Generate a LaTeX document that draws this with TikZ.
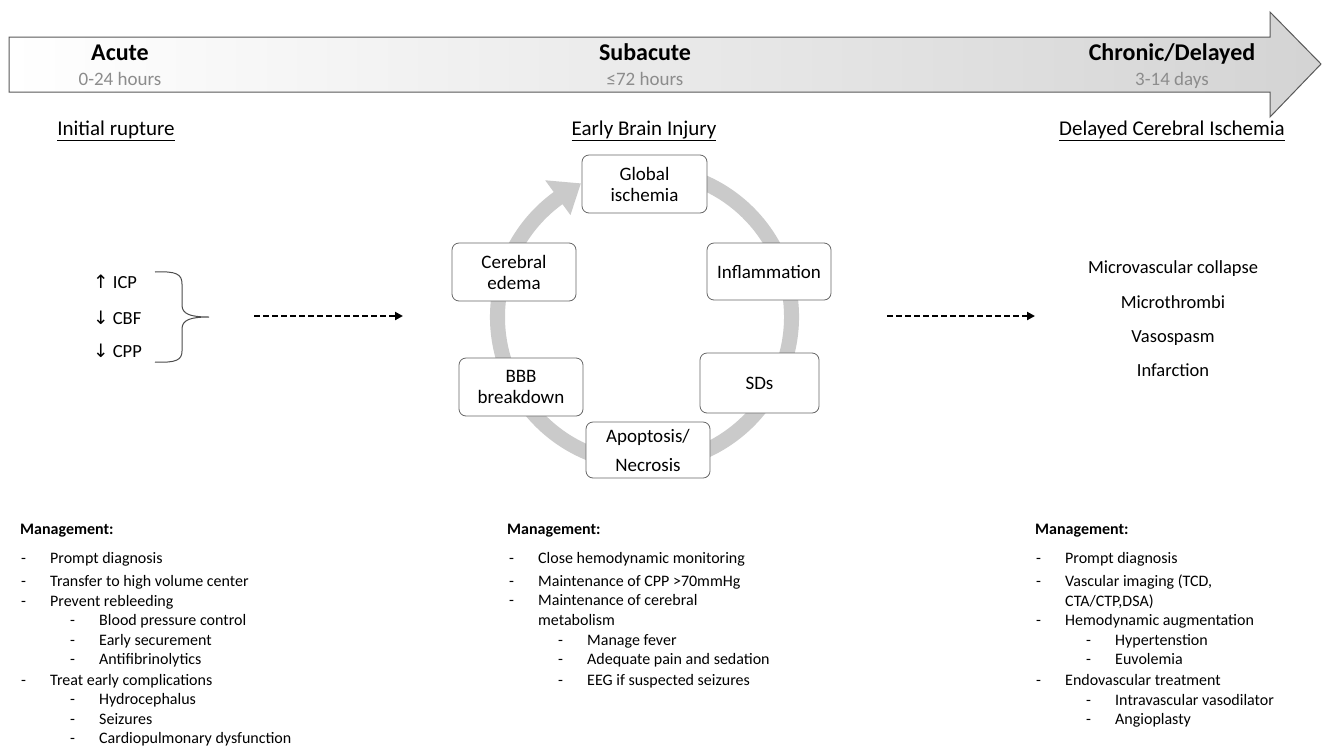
\documentclass[tikz,border=0pt]{standalone}
\usepackage{fontspec}
\setmainfont{Carlito}
\newfontfamily\symf{DejaVu Sans}
\usetikzlibrary{arrows.meta}
\definecolor{ringgray}{HTML}{CACACA}
\newcommand\itm[5]{\node[mg] (#1d) at (#2,#4) {-}; \node[mg] (#1) at (#3,#4) {#5};}
\begin{document}
\begin{tikzpicture}[x=1pt,y=-1pt,
  hd/.style={font=\bfseries\fontsize{24}{28}\selectfont, inner sep=0pt, text height=1.15em, text depth=0pt},
  subt/.style={font=\fontsize{19}{22}\selectfont, text=black!45, inner sep=0pt, text height=1.1em, text depth=0pt},
  lab/.style={font=\fontsize{21}{24}\selectfont, inner sep=0pt, text height=1.1em, text depth=0pt},
  cyc/.style={draw=black!60, line width=0.8pt, rounded corners=7pt, fill=white, align=center, font=\fontsize{19}{21}\selectfont, inner sep=0pt},
  side/.style={font=\fontsize{18.5}{22}\selectfont, inner sep=0pt, text height=1.1em, text depth=0pt},
  mg/.style={font=\fontsize{16}{19}\selectfont, anchor=west, inner sep=0pt, text height=1.05em, text depth=0pt},
  mgh/.style={mg, font=\bfseries\fontsize{16}{19}\selectfont},
  flow/.style={dash pattern=on 6pt off 3pt, line width=2pt, -{Triangle[length=8pt,width=8pt]}},
]
\useasboundingbox (0,0) rectangle (1322,745);
\fill[white] (0,0) rectangle (1322,745);

% timeline arrow
\shade[left color=white, middle color=black!14, right color=black!17, draw=black!65, line width=1pt]
  (9,37) -- (1270,37) -- (1270,12) -- (1321,64) -- (1270,117) -- (1270,92) -- (9,92) -- cycle;
\node[hd] (acute) at (120,55) {Acute};
\node[subt] (acuteT) at (120,80) {0-24 hours};
\node[hd] (subac) at (645,55) {Subacute};
\node[subt] (subacT) at (645,80) {≤72 hours};
\node[hd] (chron) at (1172,55) {Chronic/Delayed};
\node[subt] (chronT) at (1172,80) {3-14 days};

\node[lab] (initial) at (116,130) {\underline{Initial rupture}};
\node[lab] (ebi) at (644,130) {\underline{Early Brain Injury}};
\node[lab] (dci) at (1172,130) {\underline{Delayed Cerebral Ischemia}};

% left group
\node[side, anchor=west] (icp) at (93,283) {{\symf ↑} ICP};
\node[side, anchor=west] (cbf) at (93,319) {{\symf ↓} CBF};
\node[side, anchor=west] (cpp) at (93,352) {{\symf ↓} CPP};
\coordinate (brT) at (155,272);
\coordinate (brB) at (155,362);
\coordinate (brTip) at (209,317);
\draw[black!70, line width=1pt] (brT) .. controls (176,271) and (182,274) .. (182,284) -- (182,305)
   .. controls (182,314) and (190,317) .. (brTip)
   .. controls (190,317) and (182,320) .. (182,329) -- (182,351)
   .. controls (182,360) and (176,363) .. (brB);
\coordinate (f1s) at (254,316);
\coordinate (f1e) at (403,316);
\draw[flow] (f1s) -- (f1e);

% cycle ring
\coordinate (C) at (644.5,317);
\fill[ringgray] ([shift={(C)}]75:154.5pt) arc[start angle=75, end angle=-234, radius=154.5pt]
  -- ([shift={(C)}]126:169pt) -- ([shift={(C)}]115.5:148pt) -- ([shift={(C)}]126:126pt)
  -- ([shift={(C)}]126:139.5pt) arc[start angle=126, end angle=435, radius=139.5pt] -- cycle;

\node[cyc, minimum width=125pt, minimum height=58pt] (glob) at (644.5,184) {Global\\ischemia};
\node[cyc, minimum width=124pt, minimum height=58pt] (edema) at (514,272) {Cerebral\\edema};
\node[cyc, minimum width=124pt, minimum height=57pt] (infl) at (769,271.5) {Inflammation};
\node[cyc, minimum width=124pt, minimum height=58pt] (bbb) at (521,387) {BBB\\breakdown};
\node[cyc, minimum width=119pt, minimum height=60pt] (sds) at (759.5,383) {SDs};
\node[cyc, minimum width=124pt, minimum height=56pt, font=\fontsize{19}{29}\selectfont] (apo) at (648,450) {Apoptosis/\\Necrosis};

% right group
\coordinate (f2s) at (887,316);
\coordinate (f2e) at (1035,316);
\draw[flow] (f2s) -- (f2e);
\node[side] (mvc) at (1173,268) {Microvascular collapse};
\node[side] (mth) at (1173,303) {Microthrombi};
\node[side] (vsp) at (1173,337) {Vasospasm};
\node[side] (inf) at (1173,371) {Infarction};

% management left
\node[mgh] (mA) at (20,529) {Management:};
\itm{a1}{21}{50}{558}{Prompt diagnosis}
\itm{a2}{21}{50}{581}{Transfer to high volume center}
\itm{a3}{21}{50}{601}{Prevent rebleeding}
\itm{a4}{70}{99}{620}{Blood pressure control}
\itm{a5}{70}{99}{640}{Early securement}
\itm{a6}{70}{99}{659}{Antifibrinolytics}
\itm{a7}{21}{50}{680}{Treat early complications}
\itm{a8}{70}{99}{699}{Hydrocephalus}
\itm{a9}{70}{99}{719}{Seizures}
\itm{a10}{70}{99}{738}{Cardiopulmonary dysfunction}

% management middle
\node[mgh] (mB) at (507,529) {Management:};
\itm{b1}{509}{538}{558}{Close hemodynamic monitoring}
\itm{b2}{509}{538}{581}{Maintenance of CPP >70mmHg}
\itm{b3}{509}{538}{600}{Maintenance of cerebral}
\node[mg] (b3b) at (538,620) {metabolism};
\itm{b4}{558}{587}{640}{Manage fever}
\itm{b5}{558}{587}{659}{Adequate pain and sedation}
\itm{b6}{558}{587}{680}{EEG if suspected seizures}

% management right
\node[mgh] (mC) at (1035,529) {Management:};
\itm{c1}{1036}{1065}{558}{Prompt diagnosis}
\itm{c2}{1036}{1065}{581}{Vascular imaging (TCD,}
\node[mg] (c2b) at (1065,601) {CTA/CTP,DSA)};
\itm{c3}{1036}{1065}{620}{Hemodynamic augmentation}
\itm{c4}{1086}{1115}{640}{Hypertenstion}
\itm{c5}{1086}{1115}{659}{Euvolemia}
\itm{c6}{1036}{1065}{680}{Endovascular treatment}
\itm{c7}{1086}{1115}{700}{Intravascular vasodilator}
\itm{c8}{1086}{1115}{719}{Angioplasty}
\end{tikzpicture}
\end{document}
